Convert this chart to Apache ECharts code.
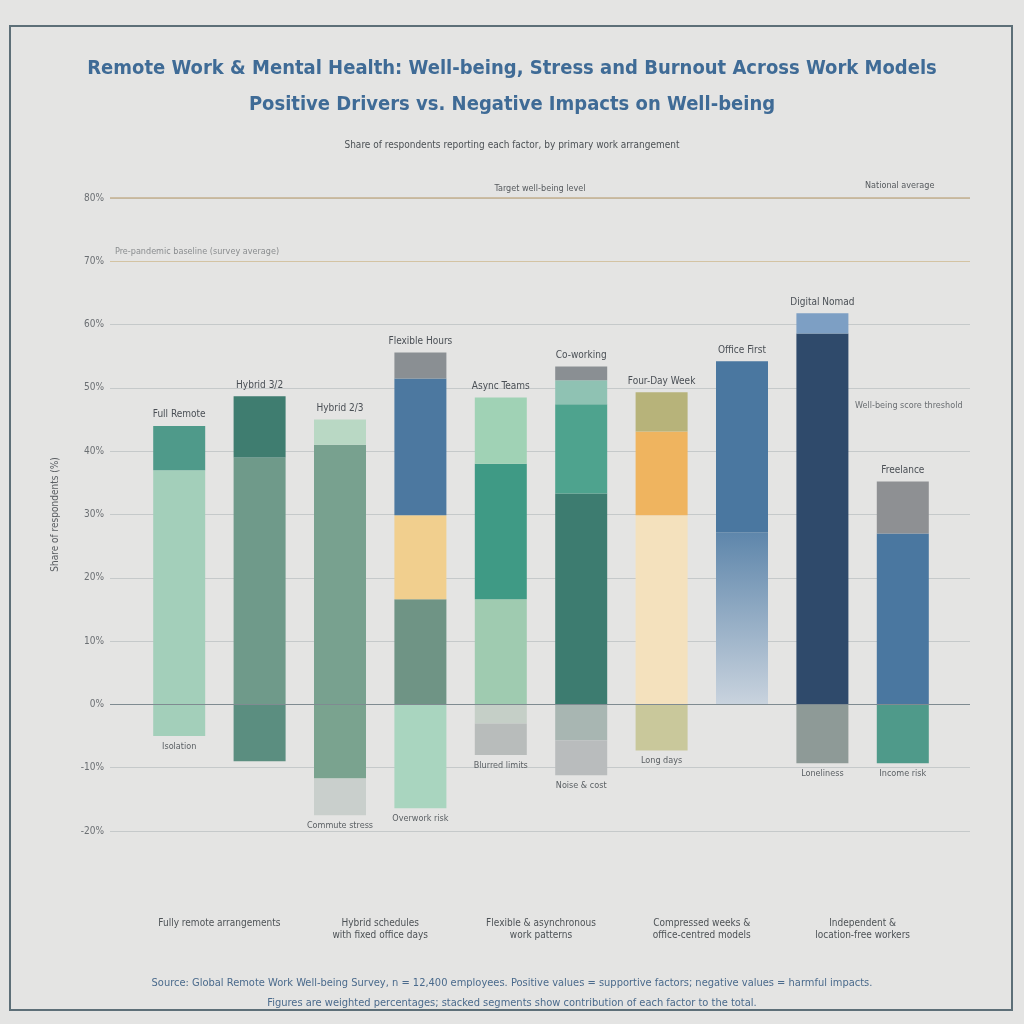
<!DOCTYPE html>
<html>
<head>
<meta charset="utf-8">
<script src="https://cdn.jsdelivr.net/npm/echarts@6/dist/echarts.min.js"></script>
<style>
html,body{margin:0;padding:0;background:#e4e4e3;}
#chart{width:1024px;height:1024px;}
</style>
</head>
<body>
<div id="chart"></div>
<script>
// ---------- data ----------
const categories = ['Full Remote','Hybrid 3/2','Hybrid 2/3','Flexible Hours','Async Teams','Co-working','Four-Day Week','Office First','Digital Nomad','Freelance'];
const groups = ['Fully remote arrangements','Hybrid schedules\nwith fixed office days','Flexible & asynchronous\nwork patterns','Compressed weeks &\noffice-centred models','Independent &\nlocation-free workers'];
// positive contributions (stacked from zero upward)
const posLayer1 = [37, 39, 41, 16.6, 16.6, 33.3, 29.9, 27.2, 58.6, 27];
const posLayer2 = [7, 9.7, 4, 13.3, 21.4, 14.1, 13.2, 27, 3.2, 8.2];
const posLayer3 = [null, null, null, 21.6, 10.5, 3.8, 6.2, null, null, null];
const posLayer4 = [null, null, null, 4.1, null, 2.2, null, null, null, null];
// negative impacts (stacked from zero downward)
const negLayer1 = [-5, -9, -11.7, -16.4, -3, -5.7, -7.3, null, -9.3, -9.3];
const negLayer2 = [null, null, -5.8, null, -5, -5.5, null, null, null, null];
const yTicks = {min: -20, max: 80, interval: 10};
const negNotes = ['Isolation','','Commute stress','Overwork risk','Blurred limits','Noise & cost','Long days','','Loneliness','Income risk'];

// ---------- styles ----------
const colors = {
  p1: ['#a3cfba','#6f9a8a','#78a18f','#6f9485','#9fcbb0','#3d7c70','#f4e1bd','#9fb6cc','#2f4a6b','#4a77a0'],
  p2: ['#4f9a8a','#3f7d70','#b9d8c4','#f1cf8e','#3f9a85','#4ea38e','#efb45f','#4a77a0','#7d9fc4','#8e9093'],
  p3: [null,null,null,'#4c78a0','#a0d2b5','#8fc2b3','#b7b37a',null,null,null],
  p4: [null,null,null,'#8a8f93',null,'#8a8f93',null,null,null,null],
  n1: ['#a3cfba','#5b8e80','#7aa38f','#a9d5bf','#c5cfc7','#a8b6b2','#c9c89b',null,'#8e9a97','#4f9a8a'],
  n2: [null,null,'#c9cfcc',null,'#b8bcbb','#b9bcbd',null,null,null,null]
};
const FONT = "'Liberation Sans Narrow','DejaVu Sans Condensed','Liberation Sans',sans-serif";

const posLayers = [posLayer1,posLayer2,posLayer3,posLayer4];
const posColors = [colors.p1,colors.p2,colors.p3,colors.p4];
const negLayers = [negLayer1,negLayer2];
const negColors = [colors.n1,colors.n2];

function topIndex(layers, i){
  let t = -1;
  layers.forEach((l,k)=>{ if(l[i]!=null) t=k; });
  return t;
}

function makeItems(layers, cols, k, isNeg){
  return layers[k].map((v,i)=>{
    if(v==null) return {value:null};
    let c = cols[k][i];
    if(!isNeg && k===0 && i===7){
      c = new echarts.graphic.LinearGradient(0,0,0,1,[{offset:0,color:'#5e86ab'},{offset:1,color:'#c9d3de'}]);
    }
    const item = {value:v, itemStyle:{color:c}};
    if(!isNeg && topIndex(layers,i)===k){
      item.label = {show:true, position:'top', formatter:categories[i], color:'#4a4f55', fontSize:10, fontFamily:FONT, distance:6};
    }
    if(isNeg && topIndex(layers,i)===k && negNotes[i]){
      item.label = {show:true, position:'bottom', formatter:negNotes[i], color:'#5a5f63', fontSize:9, fontFamily:FONT, distance:6};
    }
    return item;
  });
}

const series = [];
posLayers.forEach((l,k)=>{
  series.push({type:'bar', name:'pos'+k, stack:'s', xAxisIndex:1, yAxisIndex:1, barWidth:52,
    data: makeItems(posLayers,posColors,k,false)});
});
negLayers.forEach((l,k)=>{
  series.push({type:'bar', name:'neg'+k, stack:'s', xAxisIndex:1, yAxisIndex:1, barWidth:52,
    data: makeItems(negLayers,negColors,k,true)});
});
// reference lines on the background grid
series.push({type:'line', xAxisIndex:0, yAxisIndex:0, data:categories.map(()=>null), silent:true,
  markLine:{symbol:'none', silent:true, data:[
    {yAxis:80, lineStyle:{color:'#c4b08f',width:1.5,type:'solid'}, label:{show:true, position:'insideMiddleTop', formatter:'Target well-being level', color:'#55595d', fontSize:9, fontFamily:FONT}},
    {yAxis:70, lineStyle:{color:'#d3c3a3',width:1,type:'solid'}, label:{show:true, position:'insideStartTop', formatter:'Pre-pandemic baseline (survey average)', color:'#8a8d8f', fontSize:9, fontFamily:FONT}},
    {yAxis:0, lineStyle:{color:'#7f8b91',width:1.2,type:'solid'}, label:{show:false}}
  ]}});

const chart = echarts.init(document.getElementById('chart'), null, {renderer:'canvas'});
chart.setOption({
  backgroundColor:'#e4e4e3',
  animation:false,
  title:[
    {text:'Remote Work & Mental Health: Well-being, Stress and Burnout Across Work Models\nPositive Drivers vs. Negative Impacts on Well-being',
     left:'center', top:46, textStyle:{color:'#3f6b96', fontSize:20, fontWeight:'bold', fontFamily:FONT, lineHeight:36}},
    {text:'Share of respondents reporting each factor, by primary work arrangement',
     left:'center', top:135, textStyle:{color:'#4c5155', fontSize:10, fontWeight:'normal', fontFamily:FONT}},
    {text:'Source: Global Remote Work Well-being Survey, n = 12,400 employees. Positive values = supportive factors; negative values = harmful impacts.\nFigures are weighted percentages; stacked segments show contribution of each factor to the total.',
     left:'center', top:968, textStyle:{color:'#4a6a8c', fontSize:11, fontWeight:'normal', fontFamily:FONT, lineHeight:20}}
  ],
  graphic:[
    {type:'rect', shape:{x:10,y:26,width:1002,height:984}, style:{fill:'none', stroke:'#5d6f78', lineWidth:2}, silent:true},
    {type:'text', left:865, top:181, style:{text:'National average', fill:'#55595d', font:'9px '+FONT}},
    {type:'text', left:855, top:401, style:{text:'Well-being score threshold', fill:'#6a6e72', font:'9px '+FONT}}
  ],
  grid:[
    {left:110, right:54, top:198, bottom:193},
    {left:139, right:81, top:198, bottom:193}
  ],
  xAxis:[
    {type:'category', gridIndex:0, data:categories, show:false},
    {type:'category', gridIndex:1, data:categories, axisLine:{show:false}, axisTick:{show:false}, axisLabel:{show:false}},
    {type:'category', gridIndex:1, data:groups, position:'bottom', offset:78, axisLine:{show:false}, axisTick:{show:false},
     axisLabel:{color:'#4d5256', fontSize:10, fontFamily:FONT, interval:0, lineHeight:12}}
  ],
  yAxis:[
    {type:'value', gridIndex:0, min:yTicks.min, max:yTicks.max, interval:yTicks.interval,
     name:'Share of respondents (%)', nameLocation:'middle', nameGap:50, nameRotate:90,
     nameTextStyle:{color:'#5a5e62', fontSize:10, fontFamily:FONT},
     axisLine:{show:false}, axisTick:{show:false},
     axisLabel:{color:'#6b6f73', fontSize:10, fontFamily:FONT, formatter:v=>v+'%', margin:6},
     splitLine:{lineStyle:{color:'#c5c9ca', width:1}}},
    {type:'value', gridIndex:1, min:yTicks.min, max:yTicks.max, interval:yTicks.interval, show:false, splitLine:{show:false}}
  ],
  series:series
});
</script>
</body>
</html>
